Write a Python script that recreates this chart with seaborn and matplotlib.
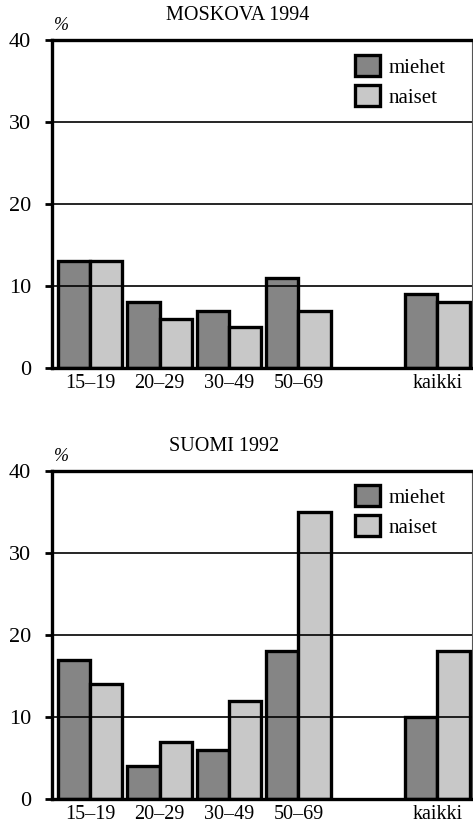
import matplotlib
matplotlib.use("Agg")
import matplotlib.pyplot as plt
import seaborn as sns
import pandas as pd

age_groups = ["15–19", "20–29", "30–49", "50–69", "kaikki"]
slot_order = ["15–19", "20–29", "30–49", "50–69", "", "kaikki"]
sexes = ["miehet", "naiset"]

moskova_miehet = [13, 8, 7, 11, 9]
moskova_naiset = [13, 6, 5, 7, 8]
suomi_miehet = [17, 4, 6, 18, 10]
suomi_naiset = [14, 7, 12, 35, 18]

colors = {"miehet": "#858585", "naiset": "#c8c8c8"}
serif = ["Liberation Serif", "DejaVu Serif"]


def make_df(miehet, naiset):
    rows = []
    for sex, vals in zip(sexes, [miehet, naiset]):
        for g, v in zip(age_groups, vals):
            rows.append({"ika": g, "sukupuoli": sex, "osuus": v})
    return pd.DataFrame(rows)


def draw(ax, df, title, title_x, legend_y):
    sns.barplot(data=df, x="ika", y="osuus", hue="sukupuoli", order=slot_order,
                hue_order=sexes, palette=colors, width=0.93, gap=0,
                edgecolor="black", linewidth=2.4, saturation=1, ax=ax)
    ax.set_xlim(-0.55, 5.5)
    ax.set_ylim(0, 40)
    ax.set_yticks([0, 10, 20, 30, 40])
    ax.set_xlabel("")
    ax.set_ylabel("")
    ax.grid(True, axis="y", color="black", linewidth=1.2)
    ax.grid(False, axis="x")
    ax.set_axisbelow(False)
    for s in ["left", "top", "bottom"]:
        ax.spines[s].set_linewidth(2.4)
        ax.spines[s].set_color("black")
    ax.spines["right"].set_linewidth(0.8)
    ax.spines["right"].set_color("#555555")
    ax.tick_params(axis="y", length=5, width=2, pad=10, labelsize=16)
    ax.tick_params(axis="x", length=0, pad=4, labelsize=14.5)
    for lab in ax.get_xticklabels() + ax.get_yticklabels():
        lab.set_family(serif)
    ax.text(title_x, 1.075, title, transform=ax.transAxes, ha="center", va="center",
            fontsize=14.5, family=serif)
    ax.text(0.022, 1.045, "%", transform=ax.transAxes, ha="center", va="center",
            fontsize=13, family=serif, style="italic")
    handles, labels = ax.get_legend_handles_labels()
    ax.legend(handles, labels, loc="upper left", bbox_to_anchor=(0.722, legend_y),
              frameon=False, prop={"family": serif, "size": 15},
              handlelength=1.2, handleheight=1.2, handletextpad=0.4,
              labelspacing=0.35, borderpad=0, borderaxespad=0)


fig = plt.figure(figsize=(4.73, 8.24), dpi=100)
ax1 = fig.add_axes([0.110, 0.5534, 0.888, 0.398])
ax2 = fig.add_axes([0.110, 0.0303, 0.888, 0.398])

draw(ax1, make_df(moskova_miehet, moskova_naiset), "MOSKOVA 1994", 0.443, 0.955)
draw(ax2, make_df(suomi_miehet, suomi_naiset), "SUOMI 1992", 0.41, 0.958)

fig.savefig("out.png", dpi=100)
